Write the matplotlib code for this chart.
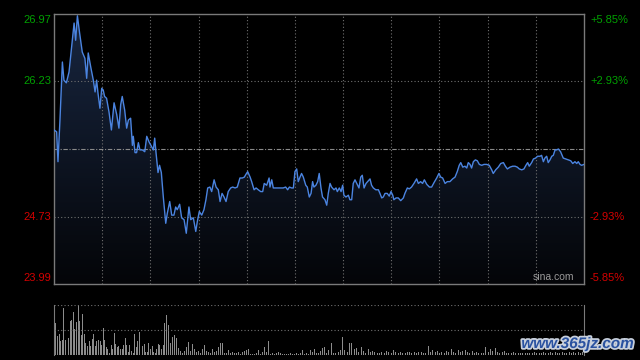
import numpy as np
import matplotlib
matplotlib.use("Agg")
from matplotlib import pyplot as plt
from matplotlib import patheffects

plt.rcParams["font.family"] = ["Liberation Sans", "DejaVu Sans"]

# price readings: minute of the session, price
minutes = [0, 1.2, 1.8, 2.7, 3.8, 4.5, 5.6, 6.8, 7.8, 9.1, 9.8, 10.6, 11.6, 12.8, 14.0, 14.8,
           15.5, 16.6, 17.8, 18.6, 19.3, 19.9, 20.8, 21.6, 22.3, 22.9, 23.8, 24.9, 26.0, 27.2,
           28.4, 29.4, 30.2, 30.9, 32.0, 32.9, 33.7, 34.7, 35.5, 35.9, 36.7, 37.4, 38.2, 38.9,
           40.0, 41.1, 42.0, 43.0, 44.1, 45.0, 45.6, 46.2, 47.1, 47.8, 48.6, 49.5, 50.6, 51.3,
           52.4, 53.3, 54.3, 55.1, 55.8, 56.9, 57.8, 58.9, 59.9, 61.1, 61.9, 63.1, 64.2, 64.9,
           65.8, 66.9, 67.9, 68.8, 69.6, 70.6, 71.4, 72.5, 73.4, 74.4, 75.2, 76.1, 77.0, 77.9,
           78.9, 80.0, 80.9, 82.0, 83.0, 84.2, 85.3, 86.2, 86.9, 87.7, 88.8, 89.5, 90.6, 91.5,
           92.5, 93.6, 94.5, 95.2, 96.3, 97.4, 97.8, 98.6, 99.3, 100.5, 101.6, 102.6, 103.8,
           104.9, 105.8, 106.6, 107.6, 108.4, 109.1, 109.9, 110.6, 111.4, 112.1, 112.9, 114.0,
           114.7, 115.6, 116.4, 117.1, 117.7, 118.6, 119.4, 120.1, 120.9, 121.6, 122.7, 123.5,
           124.2, 125.0, 125.7, 126.8, 127.7, 128.3, 129.2, 130.0, 130.7, 131.3, 132.2, 133.3,
           134.0, 134.8, 135.5, 136.3, 137.1, 138.1, 138.9, 139.6, 140.4, 141.3, 142.0, 143.1,
           143.8, 144.6, 145.7, 146.9, 147.6, 148.4, 149.1, 149.9, 150.9, 151.8, 152.6, 153.4,
           153.9, 154.9, 155.9, 157.0, 158.2, 158.9, 160.0, 160.9, 161.9, 163.0, 164.2, 165.0,
           166.0, 166.9, 167.7, 168.8, 170.0, 171.0, 172.1, 173.3, 174.3, 175.1, 176.0, 177.1,
           178.1, 179.3, 180.5, 181.6, 182.6, 183.5, 184.2, 185.1, 186.1, 186.9, 187.6, 188.4,
           189.1, 189.9, 190.8, 191.7, 192.6, 193.7, 194.7, 195.9, 197.1, 198.2, 198.9, 200.0,
           201.2, 202.3, 203.5, 204.4, 205.3, 206.5, 207.7, 208.8, 209.8, 210.7, 211.8, 212.8,
           213.7, 214.5, 215.2, 216.3, 217.1, 218.1, 219.0, 220.1, 220.8, 221.6, 222.3, 223.1,
           223.8, 224.6, 225.4, 226.1, 226.9, 227.6, 228.4, 229.4, 230.6, 231.8, 232.9, 234.0,
           234.9, 235.9, 236.7, 237.4, 238.2, 238.9, 240.0]
prices = [25.69, 25.67, 25.34, 25.80, 26.44, 26.24, 26.21, 26.33, 26.57, 26.87, 26.68, 26.95,
          26.76, 26.55, 26.48, 26.26, 26.54, 26.39, 26.24, 26.11, 26.24, 26.10, 25.93, 26.15,
          26.13, 26.06, 26.04, 25.89, 25.69, 25.99, 25.86, 25.71, 25.97, 26.06, 25.91, 25.71,
          25.80, 25.82, 25.52, 25.62, 25.44, 25.44, 25.55, 25.47, 25.47, 25.45, 25.62, 25.56,
          25.51, 25.47, 25.60, 25.44, 25.22, 25.30, 25.22, 24.95, 24.66, 24.77, 24.90, 24.75,
          24.75, 24.84, 24.81, 24.87, 24.72, 24.70, 24.55, 24.84, 24.70, 24.72, 24.57, 24.68,
          24.79, 24.75, 24.81, 24.92, 25.05, 25.06, 25.01, 25.14, 25.06, 25.03, 24.90, 24.99,
          24.95, 24.90, 25.01, 25.05, 25.06, 25.05, 25.06, 25.16, 25.16, 25.17, 25.20, 25.23,
          25.17, 25.12, 25.03, 25.05, 25.03, 25.01, 25.01, 25.10, 25.08, 25.16, 25.06, 25.14,
          25.05, 25.05, 25.05, 25.05, 25.05, 25.06, 25.03, 25.06, 25.05, 25.05, 25.23, 25.26,
          25.12, 25.17, 25.21, 25.17, 25.08, 25.06, 24.95, 24.99, 25.12, 25.06, 25.08, 25.12,
          25.21, 25.05, 24.95, 24.92, 24.86, 24.99, 25.10, 25.06, 25.03, 25.05, 25.01, 25.05,
          25.01, 25.08, 24.97, 24.95, 24.97, 24.92, 24.92, 25.10, 25.14, 25.10, 25.05, 25.17,
          25.19, 25.05, 25.10, 25.12, 25.15, 25.08, 25.05, 25.03, 25.03, 24.99, 24.94, 24.95,
          24.99, 24.99, 24.96, 25.01, 24.97, 24.92, 24.94, 24.94, 24.91, 24.94, 24.99, 25.05,
          25.04, 25.06, 25.10, 25.15, 25.10, 25.12, 25.10, 25.14, 25.09, 25.06, 25.06, 25.11,
          25.16, 25.21, 25.17, 25.16, 25.10, 25.12, 25.12, 25.15, 25.17, 25.23, 25.30, 25.33,
          25.28, 25.29, 25.27, 25.33, 25.31, 25.27, 25.34, 25.36, 25.35, 25.31, 25.30, 25.31,
          25.31, 25.30, 25.25, 25.21, 25.25, 25.28, 25.32, 25.33, 25.29, 25.26, 25.28, 25.29,
          25.29, 25.28, 25.26, 25.25, 25.26, 25.30, 25.33, 25.29, 25.33, 25.37, 25.38, 25.40,
          25.40, 25.41, 25.34, 25.38, 25.40, 25.33, 25.36, 25.40, 25.41, 25.47, 25.47, 25.48,
          25.45, 25.38, 25.37, 25.36, 25.35, 25.32, 25.34, 25.32, 25.34, 25.31, 25.30, 25.31]

prev_close = 25.48
price_ticks = [26.97, 26.23, 24.73, 23.99]
pct_labels = ["+5.85%", "+2.93%", "-2.93%", "-5.85%"]

# volume readings in three stretches: open to ~minute 50, ~50 to ~124, afternoon
volume_open = [97, 57, 63, 43, 45, 142, 45, 133, 52, 102, 105, 129, 78, 99, 151, 102, 60, 123,
               63, 35, 27, 43, 27, 47, 63, 27, 43, 45, 42, 30, 80, 45, 23, 17, 5, 30, 17, 67,
               33, 25, 27, 17, 17, 30, 50, 30, 10, 30, 13, 5, 63, 23, 43, 69, 20, 27, 32, 10,
               8, 35, 19, 27, 10, 5, 17, 32, 30, 19, 30, 97]
volume_mid = [120, 90, 35, 53, 60, 50, 20, 13, 7, 13, 25, 38, 12, 33, 18, 10, 13, 7, 17, 30,
              13, 10, 7, 17, 10, 13, 23, 37, 35, 7, 5, 15, 7, 10, 5, 7, 10, 3, 10, 13, 15, 17,
              2, 3, 2, 7, 15, 3, 10, 23, 10, 42, 3, 7, 2, 5, 10, 7, 3, 2, 3, 2, 5, 3, 2, 5, 3,
              5, 15, 3, 5, 3, 15, 10, 17, 5, 7, 13, 20, 23, 5, 15]
volume_pm = [35, 5, 7, 10, 15, 55, 15, 10, 35, 37, 17, 20, 10, 25, 13, 7, 17, 10, 13, 10, 5,
             7, 10, 7, 13, 10, 5, 15, 10, 7, 10, 5, 7, 10, 10, 7, 10, 7, 10, 10, 7, 5, 27, 10,
             15, 10, 13, 7, 10, 7, 13, 10, 17, 10, 7, 15, 10, 13, 15, 10, 7, 13, 5, 10, 7, 5, 7,
             25, 10, 17, 13, 20, 10, 7, 10, 13, 7, 5, 7, 10, 7, 5, 7, 5, 7, 5, 7, 6, 8, 5, 7, 6,
             9, 5, 7, 8, 6, 10, 7, 6, 8, 5, 7, 9, 6, 8, 7, 10, 6, 8]

up_color = "#00a000"
down_color = "#d40000"
grid_color = "#707070"
frame_color = "#7a7a7a"
line_color = "#4b84e0"

fig = plt.figure(figsize=(6.4, 3.6), dpi=100, facecolor="black")
ax = fig.add_axes([54 / 640, 1 - 284 / 360, 530 / 640, 270 / 360], facecolor="black")
vax = fig.add_axes([54 / 640, 1 - 355 / 360, 530 / 640, 50.5 / 360], facecolor="black")

lo, hi = price_ticks[-1], price_ticks[0]
ax.set_xlim(0, 240)
ax.set_ylim(lo, hi)

# gradient fill under the price line
grad = np.linspace(0, 1, 256).reshape(-1, 1)
top_rgb = np.array([24, 38, 64]) / 255
bot_rgb = np.array([4, 5, 8]) / 255
img = top_rgb * (1 - grad[..., None]) + bot_rgb * grad[..., None]
img = img.reshape(256, 1, 3)
poly = ax.fill_between(minutes, prices, lo, facecolor="none", edgecolor="none")
im = ax.imshow(img, extent=[0, 240, lo, hi], aspect="auto", origin="upper", zorder=1)
im.set_clip_path(poly.get_paths()[0], transform=ax.transData)

# grid
for k in range(1, 11):
    ax.axvline(240 * k / 11, color=grid_color, lw=0.8, ls=(0, (1, 2)), zorder=2)
for v in [price_ticks[1], price_ticks[2]]:
    ax.axhline(v, color=grid_color, lw=0.8, ls=(0, (1, 2)), zorder=2)
ax.axhline(prev_close, color="#8a8a8a", lw=0.8, ls=(0, (4, 1.5, 1, 1.5)), zorder=2)

ax.plot(minutes, prices, color=line_color, lw=1.0, zorder=3)

ax.set_xticks([])
ax.set_yticks([])
for s in ax.spines.values():
    s.set_color(frame_color)
    s.set_linewidth(1.0)

# axis labels
offsets = [-6, 0, 0, 6]
for i, (p, lab) in enumerate(zip(price_ticks, pct_labels)):
    col = up_color if p > prev_close else down_color
    ax.annotate(f"{p:.2f}", xy=(0, p), xytext=(-3, offsets[i]), textcoords="offset pixels",
                ha="right", va="center", color=col, fontsize=8)
    ax.annotate(lab, xy=(240, p), xytext=(6, offsets[i]), textcoords="offset pixels",
                ha="left", va="center", color=col, fontsize=8)

ax.text(0.982, 0.008, "sina.com", transform=ax.transAxes, ha="right", va="bottom",
        color="#9a9a9a", fontsize=7.5)

# volume panel
bar_kw = dict(width=0.45, color="#8c8c8c", linewidth=0)
vax.bar(np.linspace(0.4, 49.8, len(volume_open)), volume_open, **bar_kw)
vax.bar(np.linspace(50.6, 124.2, len(volume_mid)), volume_mid, **bar_kw)
vax.bar(np.linspace(125.5, 240, len(volume_pm)), volume_pm, **bar_kw)
vax.set_xlim(-0.5, 240.5)
vax.set_ylim(0, 152)
vax.set_xticks([])
vax.set_yticks([])
for side in ["top", "bottom"]:
    vax.spines[side].set_visible(False)
for side in ["left", "right"]:
    vax.spines[side].set_color(frame_color)
for v in [0.5, 76, 151.5]:
    vax.axhline(v, color=grid_color, lw=0.8, ls=(0, (1, 2)))

fig.text(0.99, 0.025, "www.365jz.com", ha="right", va="bottom", color="#2a52a0",
         fontsize=11, fontweight="bold", fontstyle="italic",
         path_effects=[patheffects.withStroke(linewidth=2.5, foreground="#c8d0dc")])

fig.savefig("out.png", dpi=100, facecolor="black")
